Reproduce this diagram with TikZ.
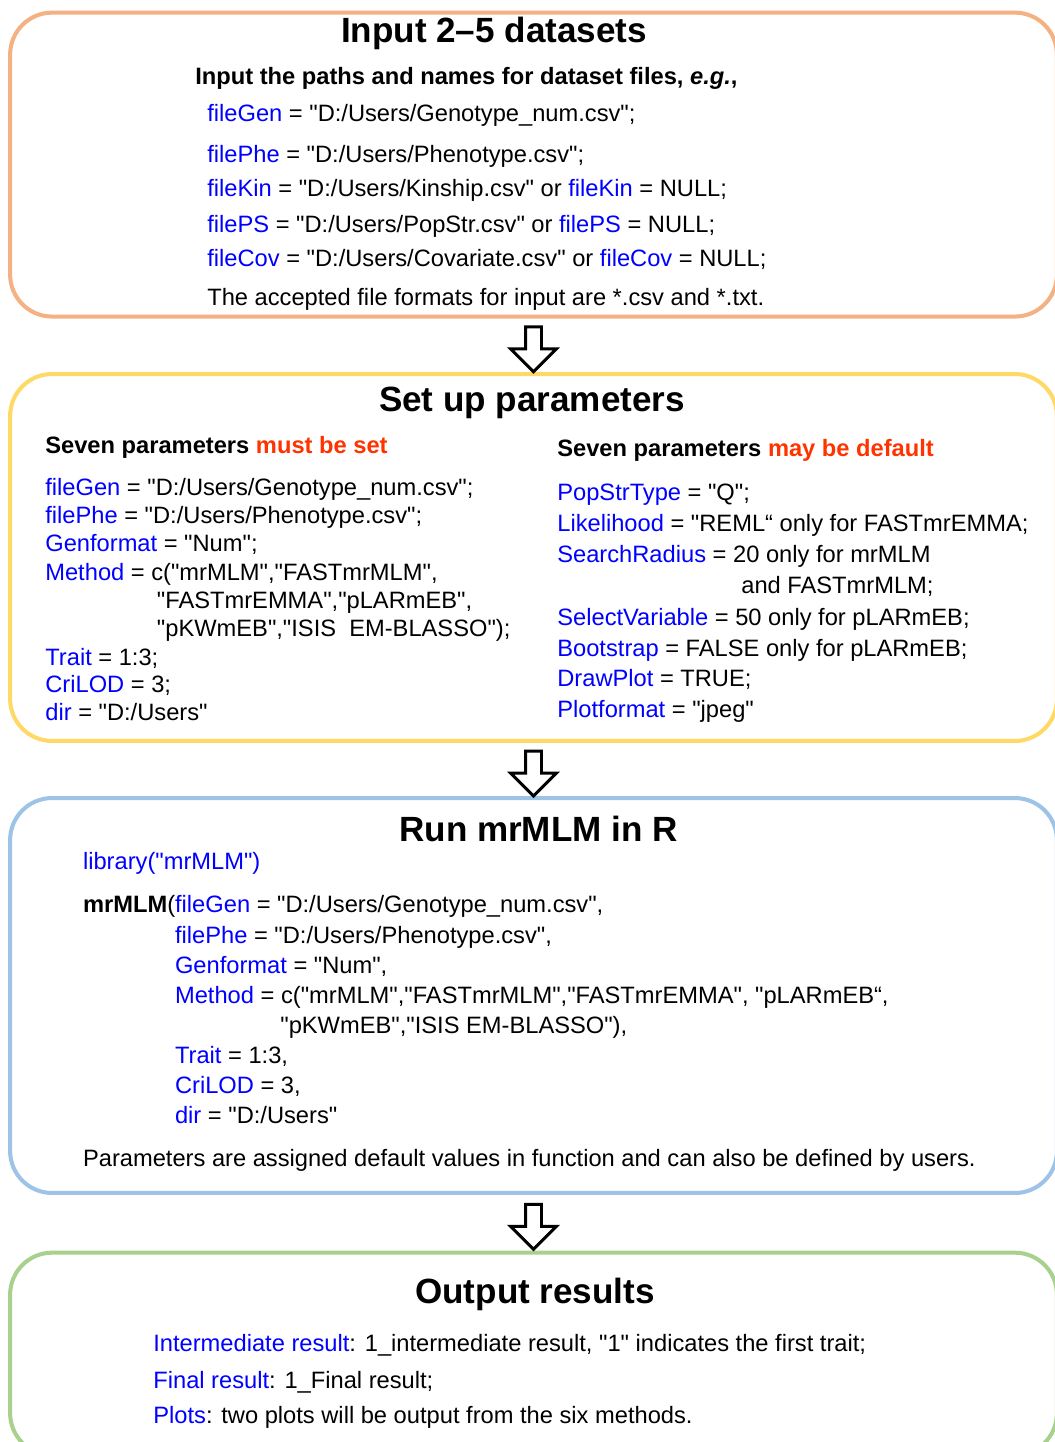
\documentclass[tikz,border=0pt]{standalone}
\usepackage{fontspec}
\setmainfont{Liberation Sans}[Ligatures=TeXOff]
\usepackage{xcolor}
\usetikzlibrary{calc,shapes.arrows}
\definecolor{bdorange}{HTML}{F4B183}
\definecolor{bdyellow}{HTML}{FFD966}
\definecolor{bdblue}{HTML}{9DC3E6}
\definecolor{bdgreen}{HTML}{A9D18E}
\definecolor{argblue}{HTML}{0000FF}
\definecolor{notered}{HTML}{FF3300}
\newcommand{\kw}[1]{\textcolor{argblue}{#1}}
\newcommand{\hl}[1]{\textcolor{notered}{#1}}

\begin{document}
\begin{tikzpicture}[
  x=0.02cm, y=-0.02cm,
  stagebox/.style ={draw=#1, line width=2.3pt, rounded corners=0.84cm, minimum width=20.94cm, inner sep=0pt},
  stagettl/.style ={font=\fontsize{19.95}{24}\selectfont\bfseries, anchor=base, inner sep=0pt},
  codeln/.style   ={font=\fontsize{13.48}{16}\selectfont, anchor=base west, inner sep=0pt},
  headln/.style   ={codeln, font=\fontsize{13.48}{16}\selectfont\bfseries},
  downarrow/.style={single arrow, draw=black, fill=white, line width=1.7pt, shape border rotate=270,
                    minimum height=0.9cm, inner sep=0.13cm, single arrow head extend=0.3cm},
]
\useasboundingbox (0,0) rectangle (1054,1442);
% the four stages
\node[stagebox=bdorange, minimum height=6.08cm] (input)  at (533.5,164.6)  {};
\node[stagebox=bdyellow, minimum height=7.34cm] (param)  at (533.5,557.5)  {};
\node[stagebox=bdblue,   minimum height=7.9cm]  (runr)   at (533.5,995.5)  {};
\node[stagebox=bdgreen,  minimum height=4.05cm] (output) at (533.5,1353.9) {};
% hollow arrows between stages
\node[downarrow] (a1) at ($(input.south)!0.5!(param.north)$) {};
\node[downarrow] (a2) at ($(param.south)!0.5!(runr.north)$)  {};
\node[downarrow] (a3) at ($(runr.south)!0.5!(output.north)$) {};

% Input 2-5 datasets
\node[stagettl] (inttl) at (494,43) {Input 2–5 datasets};
\node[headln] (inhead) at (195,85) {Input the paths and names for dataset files, \textit{e.g.},};
\node[codeln] (in1) at (207,121.7) {\kw{fileGen} = "D:/Users/Genotype\_num.csv";};
\node[codeln] (in2) at (207,162.7) {\kw{filePhe} = "D:/Users/Phenotype.csv";};
\node[codeln] (in3) at (207,197)   {\kw{fileKin} = "D:/Users/Kinship.csv" or \kw{fileKin} = NULL;};
\node[codeln] (in4) at (207,233)   {\kw{filePS} = "D:/Users/PopStr.csv" or \kw{filePS} = NULL;};
\node[codeln] (in5) at (207,267)   {\kw{fileCov} = "D:/Users/Covariate.csv" or \kw{fileCov} = NULL;};
\node[codeln] (in6) at (207,306)   {The accepted file formats for input are *.csv and *.txt.};

% Set up parameters
\node[stagettl] (parttl) at (532,411.7) {Set up parameters};
\node[headln] (mustset) at (45,453)  {Seven parameters \hl{must be set}};
\node[headln] (maydef)  at (557,456) {Seven parameters \hl{may be default}};
% left column
\node[codeln] (ml1) at (45,495)    {\kw{fileGen} = "D:/Users/Genotype\_num.csv";};
\node[codeln] (ml2) at (45,523)    {\kw{filePhe} = "D:/Users/Phenotype.csv";};
\node[codeln] (ml3) at (45,551.7)  {\kw{Genformat} = "Num";};
\node[codeln] (ml4) at (45,580)    {\kw{Method} = c("mrMLM","FASTmrMLM",};
\node[codeln] (ml5) at (156.6,608) {"FASTmrEMMA","pLARmEB",};
\node[codeln] (ml6) at (156.6,636.7) {"pKWmEB","ISIS\ \ EM-BLASSO");};
\node[codeln] (ml7) at (45,665)    {\kw{Trait} = 1:3;};
\node[codeln] (ml8) at (45,692.7)  {\kw{CriLOD} = 3;};
\node[codeln] (ml9) at (45,720.7)  {\kw{dir} = "D:/Users"};
% right column
\node[codeln] (md1) at (557,500)   {\kw{PopStrType} = "Q";};
\node[codeln] (md2) at (557,531)   {\kw{Likelihood} = "REML“ only for FASTmrEMMA;};
\node[codeln] (md3) at (557,562.3) {\kw{SearchRadius} = 20 only for mrMLM};
\node[codeln] (md4) at (741,593.3) {and FASTmrMLM;};
\node[codeln] (md5) at (557,625)   {\kw{SelectVariable} = 50 only for pLARmEB;};
\node[codeln] (md6) at (557,656)   {\kw{Bootstrap} = FALSE only for pLARmEB;};
\node[codeln] (md7) at (557,686.7) {\kw{DrawPlot} = TRUE;};
\node[codeln] (md8) at (557,717.7) {\kw{Plotformat} = "jpeg"};

% Run mrMLM in R
\node[stagettl] (runttl) at (538.5,841.7) {Run mrMLM in R};
\node[codeln] (r0) at (82.7,869.3)  {\kw{library("mrMLM")}};
\node[codeln] (r1) at (82.7,912.7)  {\textbf{mrMLM}(\kw{fileGen} = "D:/Users/Genotype\_num.csv",};
\node[codeln] (r2) at (174.7,943.3) {\kw{filePhe} = "D:/Users/Phenotype.csv",};
\node[codeln] (r3) at (174.7,973.3) {\kw{Genformat} = "Num",};
\node[codeln] (r4) at (174.7,1003.3) {\kw{Method} = c("mrMLM","FASTmrMLM","FASTmrEMMA", "pLARmEB“,};
\node[codeln] (r5) at (280,1033.3)  {"pKWmEB","ISIS EM-BLASSO"),};
\node[codeln] (r6) at (174.7,1063.3) {\kw{Trait} = 1:3,};
\node[codeln] (r7) at (174.7,1093.3) {\kw{CriLOD} = 3,};
\node[codeln] (r8) at (174.7,1123.3) {\kw{dir} = "D:/Users"};
\node[codeln] (r9) at (82.7,1166)   {Parameters are assigned default values in function and can also be defined by users.};

% Output results
\node[stagettl] (outttl) at (535,1303) {Output results};
\node[codeln] (o1) at (153,1351.7) {\kw{Intermediate result}: 1\_intermediate result, "1" indicates the first trait;};
\node[codeln] (o2) at (153,1388.3) {\kw{Final result}: 1\_Final result;};
\node[codeln] (o3) at (153,1423.3) {\kw{Plots}: two plots will be output from the six methods.};
\end{tikzpicture}
\end{document}
